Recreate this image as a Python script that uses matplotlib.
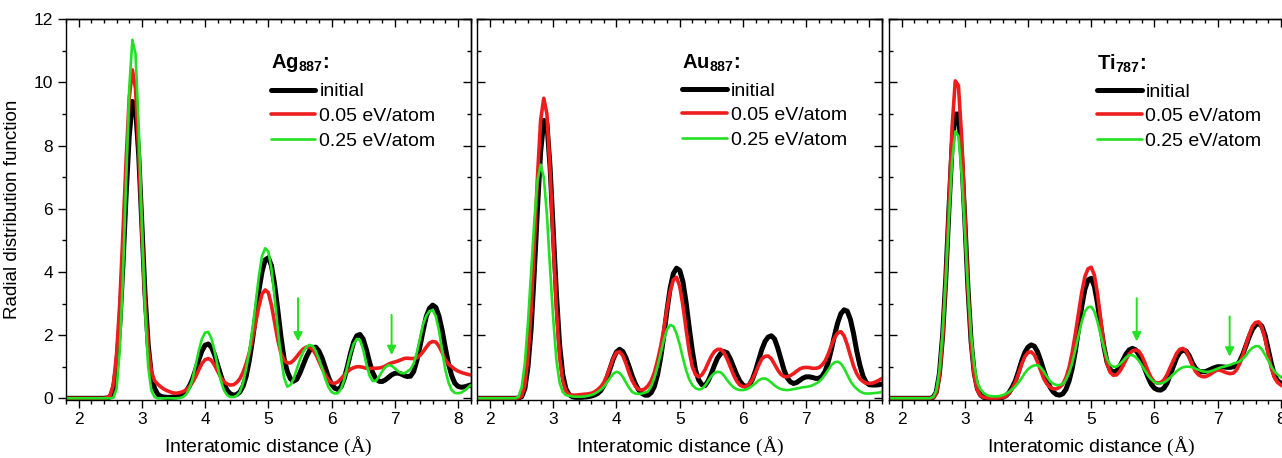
#!/usr/bin/env python3
"""Radial distribution functions of Ag887, Au887 and Ti787 clusters (three panels)."""

import matplotlib

matplotlib.use("Agg")

import matplotlib.pyplot as plt
import numpy as np
from matplotlib.ticker import MultipleLocator

# sampling of the curves: r = 1.80, 1.85, ... 8.20 A (one row = 0.5 A)
R_START = 1.8
R_STEP = 0.05

AG_INITIAL = [
    0, 0, 0, 0, 0, 0, 0, 0, 0, 0,
    0, 0, 0, 0.01, 0.05, 0.3, 1.0, 2.3, 4.2, 6.4,
    8.3, 9.4, 9.2, 7.7, 5.5, 3.3, 1.7, 0.75, 0.32, 0.13,
    0.06, 0.04, 0.03, 0.03, 0.04, 0.05, 0.08, 0.13, 0.22, 0.38,
    0.6, 0.9, 1.22, 1.5, 1.68, 1.72, 1.62, 1.38, 1.05, 0.72,
    0.44, 0.25, 0.14, 0.1, 0.12, 0.2, 0.38, 0.7, 1.2, 1.85,
    2.6, 3.4, 4.0, 4.38, 4.45, 4.2, 3.6, 2.8, 1.95, 1.25,
    0.85, 0.62, 0.54, 0.6, 0.8, 1.05, 1.3, 1.5, 1.6, 1.62,
    1.5, 1.28, 0.98, 0.68, 0.45, 0.32, 0.28, 0.36, 0.62, 1.0,
    1.42, 1.78, 1.98, 2.02, 1.88, 1.55, 1.15, 0.82, 0.62, 0.54,
    0.53, 0.58, 0.66, 0.74, 0.79, 0.8, 0.77, 0.72, 0.69, 0.7,
    0.85, 1.2, 1.65, 2.15, 2.6, 2.85, 2.95, 2.88, 2.6, 2.15,
    1.6, 1.1, 0.72, 0.48, 0.38, 0.35, 0.36, 0.39, 0.42,
]
AG_005 = [
    0, 0, 0, 0, 0, 0, 0, 0, 0, 0,
    0, 0, 0, 0.02, 0.1, 0.45, 1.4, 3.0, 5.2, 7.5,
    9.5, 10.4, 9.8, 7.8, 5.3, 3.1, 1.6, 0.85, 0.56, 0.45,
    0.36, 0.29, 0.24, 0.2, 0.17, 0.16, 0.18, 0.21, 0.27, 0.36,
    0.5, 0.68, 0.9, 1.1, 1.22, 1.26, 1.2, 1.05, 0.85, 0.66,
    0.52, 0.45, 0.42, 0.43, 0.5, 0.62, 0.82, 1.1, 1.45, 1.9,
    2.4, 2.9, 3.3, 3.43, 3.35, 2.95, 2.4, 1.85, 1.42, 1.2,
    1.12, 1.12, 1.2, 1.32, 1.45, 1.56, 1.62, 1.63, 1.55, 1.4,
    1.18, 0.95, 0.75, 0.58, 0.49, 0.47, 0.52, 0.62, 0.73, 0.84,
    0.92, 0.97, 1.0, 1.0, 0.98, 0.95, 0.94, 0.95, 0.95, 0.96,
    0.98, 1.02, 1.08, 1.12, 1.15, 1.18, 1.22, 1.26, 1.27, 1.26,
    1.26, 1.28, 1.36, 1.48, 1.62, 1.75, 1.8, 1.78, 1.65, 1.45,
    1.22, 1.08, 1.0, 0.92, 0.86, 0.82, 0.79, 0.76, 0.74,
]
AG_025 = [
    0, 0, 0, 0, 0, 0, 0, 0, 0, 0,
    0, 0, 0, 0, 0, 0.02, 0.3, 1.5, 3.8, 6.8,
    9.8, 11.35, 10.9, 8.6, 5.5, 2.8, 1.0, 0.25, 0.04, 0.0,
    0, 0, 0, 0, 0, 0, 0.01, 0.04, 0.12, 0.3,
    0.6, 1.05, 1.5, 1.88, 2.08, 2.1, 1.9, 1.5, 1.0, 0.55,
    0.25, 0.1, 0.04, 0.04, 0.08, 0.2, 0.48, 0.95, 1.5, 2.2,
    3.0, 3.85, 4.5, 4.75, 4.65, 4.1, 3.2, 2.2, 1.3, 0.65,
    0.37, 0.42, 0.62, 0.92, 1.22, 1.46, 1.62, 1.69, 1.66, 1.5,
    1.25, 0.95, 0.62, 0.36, 0.2, 0.15, 0.16, 0.3, 0.58, 1.0,
    1.4, 1.72, 1.88, 1.85, 1.55, 1.1, 0.72, 0.55, 0.55, 0.68,
    0.85, 0.98, 1.05, 1.03, 0.95, 0.86, 0.8, 0.79, 0.85, 0.92,
    1.1, 1.45, 1.9, 2.35, 2.62, 2.76, 2.79, 2.6, 2.15, 1.5,
    0.9, 0.5, 0.26, 0.17, 0.16, 0.18, 0.24, 0.32, 0.42,
]

AU_INITIAL = [
    0, 0, 0, 0, 0, 0, 0, 0, 0, 0,
    0, 0, 0, 0.01, 0.05, 0.3, 1.0, 2.2, 4.0, 6.0,
    7.8, 8.8, 8.7, 7.3, 5.3, 3.3, 1.7, 0.75, 0.3, 0.12,
    0.05, 0.03, 0.03, 0.03, 0.04, 0.05, 0.07, 0.1, 0.15, 0.24,
    0.4, 0.65, 0.95, 1.25, 1.47, 1.55, 1.48, 1.28, 1.0, 0.7,
    0.45, 0.27, 0.16, 0.1, 0.1, 0.18, 0.38, 0.75, 1.3, 2.0,
    2.8, 3.5, 3.95, 4.12, 4.05, 3.7, 3.05, 2.25, 1.5, 0.9,
    0.58, 0.43, 0.4, 0.55, 0.78, 1.05, 1.28, 1.42, 1.48, 1.44,
    1.25, 1.0, 0.75, 0.55, 0.42, 0.37, 0.42, 0.6, 0.88, 1.22,
    1.55, 1.8, 1.94, 1.98, 1.88, 1.6, 1.25, 0.9, 0.65, 0.52,
    0.47, 0.5, 0.57, 0.64, 0.68, 0.68, 0.66, 0.63, 0.63, 0.7,
    0.85, 1.15, 1.55, 2.0, 2.4, 2.68, 2.8, 2.76, 2.5, 2.05,
    1.5, 1.05, 0.7, 0.5, 0.43, 0.42, 0.42, 0.43, 0.45,
]
AU_005 = [
    0, 0, 0, 0, 0, 0, 0, 0, 0, 0,
    0, 0, 0, 0.01, 0.07, 0.4, 1.3, 2.8, 4.8, 7.0,
    8.8, 9.5, 9.0, 7.2, 4.9, 2.8, 1.3, 0.55, 0.22, 0.12,
    0.1, 0.1, 0.11, 0.12, 0.13, 0.14, 0.16, 0.2, 0.27, 0.36,
    0.5, 0.72, 1.0, 1.27, 1.45, 1.47, 1.35, 1.1, 0.8, 0.55,
    0.38, 0.28, 0.26, 0.3, 0.4, 0.56, 0.82, 1.2, 1.65, 2.2,
    2.85, 3.4, 3.75, 3.83, 3.55, 2.95, 2.2, 1.5, 1.0, 0.75,
    0.68, 0.74, 0.9, 1.12, 1.33, 1.48, 1.55, 1.55, 1.45, 1.25,
    1.0, 0.75, 0.55, 0.42, 0.37, 0.38, 0.45, 0.6, 0.82, 1.05,
    1.25, 1.33, 1.34, 1.25, 1.08, 0.9, 0.76, 0.69, 0.68, 0.72,
    0.78, 0.86, 0.93, 0.97, 0.98, 0.97, 0.95, 0.95, 0.97, 1.05,
    1.18, 1.4, 1.68, 1.92, 2.07, 2.11, 1.98, 1.7, 1.35, 1.02,
    0.78, 0.62, 0.53, 0.48, 0.47, 0.48, 0.52, 0.57, 0.63,
]
AU_025 = [
    0, 0, 0, 0, 0, 0, 0, 0, 0, 0,
    0, 0, 0, 0.05, 0.35, 1.1, 2.4, 4.0, 5.6, 6.9,
    7.4, 7.0, 5.8, 4.1, 2.5, 1.2, 0.5, 0.2, 0.1, 0.08,
    0.06, 0.05, 0.05, 0.05, 0.06, 0.08, 0.1, 0.14, 0.2, 0.27,
    0.36, 0.5, 0.65, 0.78, 0.84, 0.8, 0.68, 0.5, 0.33, 0.2,
    0.15, 0.14, 0.15, 0.18, 0.22, 0.38, 0.65, 1.0, 1.42, 1.85,
    2.18, 2.32, 2.28, 2.05, 1.7, 1.28, 0.9, 0.6, 0.42, 0.32,
    0.28, 0.3, 0.4, 0.55, 0.7, 0.8, 0.84, 0.82, 0.72, 0.58,
    0.45, 0.35, 0.29, 0.26, 0.26, 0.28, 0.33, 0.4, 0.48, 0.57,
    0.62, 0.63, 0.58, 0.5, 0.41, 0.34, 0.29, 0.27, 0.26, 0.27,
    0.29, 0.31, 0.33, 0.35, 0.36, 0.38, 0.41, 0.46, 0.52, 0.62,
    0.75, 0.9, 1.05, 1.14, 1.16, 1.1, 0.95, 0.75, 0.55, 0.4,
    0.3, 0.22, 0.17, 0.15, 0.15, 0.16, 0.17, 0.18, 0.2,
]

TI_INITIAL = [
    0, 0, 0, 0, 0, 0, 0, 0, 0, 0,
    0, 0, 0, 0, 0.03, 0.2, 0.8, 2.0, 3.8, 6.0,
    8.0, 9.0, 9.0, 7.7, 5.7, 3.5, 1.8, 0.8, 0.3, 0.1,
    0.03, 0.01, 0, 0, 0, 0.01, 0.03, 0.08, 0.18, 0.35,
    0.55, 0.85, 1.18, 1.45, 1.62, 1.69, 1.65, 1.48, 1.2, 0.88,
    0.58, 0.35, 0.2, 0.12, 0.1, 0.14, 0.28, 0.55, 0.95, 1.5,
    2.2, 2.9, 3.45, 3.75, 3.8, 3.55, 3.0, 2.3, 1.65, 1.15,
    0.9, 0.84, 0.86, 1.0, 1.2, 1.4, 1.53, 1.58, 1.54, 1.4,
    1.18, 0.92, 0.66, 0.45, 0.32, 0.27, 0.26, 0.32, 0.48, 0.75,
    1.02, 1.28, 1.45, 1.52, 1.5, 1.35, 1.12, 0.95, 0.86, 0.84,
    0.84, 0.88, 0.93, 0.97, 1.0, 1.0, 0.99, 0.98, 0.98, 1.0,
    1.05, 1.18, 1.4, 1.68, 1.95, 2.18, 2.32, 2.37, 2.28, 2.0,
    1.55, 1.1, 0.72, 0.55, 0.48, 0.4, 0.33, 0.28, 0.25,
]
TI_005 = [
    0, 0, 0, 0, 0, 0, 0, 0, 0, 0,
    0, 0, 0, 0, 0.02, 0.15, 0.7, 1.9, 3.8, 6.2,
    8.6, 10.05, 9.9, 8.3, 5.9, 3.5, 1.7, 0.7, 0.25, 0.08,
    0.03, 0.01, 0, 0, 0, 0.01, 0.03, 0.07, 0.16, 0.3,
    0.5, 0.78, 1.08, 1.32, 1.45, 1.47, 1.38, 1.15, 0.88, 0.62,
    0.45, 0.35, 0.3, 0.3, 0.35, 0.45, 0.65, 0.98, 1.45, 2.05,
    2.7, 3.35, 3.85, 4.1, 4.15, 3.9, 3.3, 2.5, 1.7, 1.1,
    0.82, 0.73, 0.74, 0.85, 1.02, 1.22, 1.4, 1.5, 1.53, 1.5,
    1.35, 1.12, 0.86, 0.65, 0.52, 0.48, 0.5, 0.58, 0.75, 0.98,
    1.2, 1.42, 1.55, 1.58, 1.5, 1.3, 1.05, 0.85, 0.74, 0.69,
    0.68, 0.72, 0.78, 0.85, 0.9, 0.88, 0.84, 0.8, 0.78, 0.8,
    0.9, 1.1, 1.38, 1.7, 2.02, 2.28, 2.4, 2.42, 2.25, 1.88,
    1.4, 0.95, 0.65, 0.5, 0.42, 0.36, 0.3, 0.26, 0.23,
]
TI_025 = [
    0, 0, 0, 0, 0, 0, 0, 0, 0, 0,
    0, 0, 0, 0, 0.04, 0.25, 0.9, 2.1, 3.8, 5.7,
    7.5, 8.45, 8.3, 7.1, 5.3, 3.5, 2.0, 1.05, 0.5, 0.28,
    0.17, 0.1, 0.07, 0.06, 0.06, 0.07, 0.1, 0.14, 0.2, 0.28,
    0.38, 0.5, 0.64, 0.8, 0.92, 1.0, 1.04, 1.05, 0.98, 0.85,
    0.68, 0.54, 0.46, 0.42, 0.42, 0.46, 0.58, 0.8, 1.12, 1.55,
    2.0, 2.42, 2.75, 2.88, 2.9, 2.75, 2.42, 2.0, 1.6, 1.25,
    1.06, 1.0, 1.0, 1.07, 1.18, 1.29, 1.36, 1.37, 1.31, 1.2,
    1.05, 0.88, 0.72, 0.6, 0.51, 0.47, 0.47, 0.5, 0.57, 0.66,
    0.76, 0.85, 0.93, 0.98, 1.0, 1.0, 0.98, 0.94, 0.9, 0.86,
    0.84, 0.84, 0.86, 0.9, 0.94, 0.98, 1.0, 1.03, 1.06, 1.1,
    1.13, 1.17, 1.25, 1.36, 1.5, 1.6, 1.65, 1.65, 1.55, 1.38,
    1.2, 1.0, 0.85, 0.75, 0.68, 0.6, 0.52, 0.45, 0.4,
]

# green arrows: (r, arrow tail, arrow tip)
AG_ARROWS = [(5.47, 3.17, 1.8), (6.95, 2.64, 1.37)]
TI_ARROWS = [(5.72, 3.17, 1.8), (7.19, 2.59, 1.32)]

SERIES_LABELS = ["initial", "0.05 eV/atom", "0.25 eV/atom"]
PANEL_TITLES = [("Ag", "887"), ("Au", "887"), ("Ti", "787")]

BLACK = "#000000"
RED = "#ee1c1c"
GREEN = "#22e022"
FONT = "Liberation Sans"

plt.rcParams.update(
    {
        "font.family": FONT,
        "font.size": 12,
        "axes.linewidth": 1.0,
        "mathtext.fontset": "custom",
        "mathtext.rm": "Liberation Serif",
        "mathtext.bf": "Liberation Sans:bold",
        "mathtext.sf": "Liberation Sans",
    }
)


def r_grid(values):
    return np.round(R_START + R_STEP * np.arange(len(values)), 2)


def style_axes(ax, first):
    ax.set_xlim(1.8, 8.2)
    ax.set_ylim(-0.05, 12)
    ax.xaxis.set_major_locator(MultipleLocator(1))
    ax.xaxis.set_minor_locator(MultipleLocator(0.2))
    ax.yaxis.set_major_locator(MultipleLocator(2))
    ax.yaxis.set_minor_locator(MultipleLocator(1))
    ax.tick_params(axis="x", which="both", direction="out", top=False, labelsize=12.5, pad=3)
    ax.tick_params(axis="y", which="both", direction="out" if first else "in",
                   right=False, labelleft=first, labelsize=12.5, pad=4)
    ax.tick_params(which="major", length=5.5, width=1.0)
    ax.tick_params(which="minor", length=3.2, width=1.0)

    top = ax.secondary_xaxis("top")
    top.xaxis.set_major_locator(MultipleLocator(1))
    top.xaxis.set_minor_locator(MultipleLocator(0.2))
    top.tick_params(which="both", direction="in", labeltop=False)
    top.tick_params(which="major", length=5.5, width=1.0)
    top.tick_params(which="minor", length=3.2, width=1.0)

    right = ax.secondary_yaxis("right")
    right.yaxis.set_major_locator(MultipleLocator(2))
    right.yaxis.set_minor_locator(MultipleLocator(1))
    right.tick_params(which="both", direction="in", labelright=False)
    right.tick_params(which="major", length=5.5, width=1.0)
    right.tick_params(which="minor", length=3.2, width=1.0)

    ax.set_xlabel(r"Interatomic distance $\mathrm{(\AA)}$", fontsize=14, labelpad=6)
    if first:
        ax.set_ylabel("Radial distribution function", fontsize=13.5, labelpad=9)


def draw_panel(ax, title, curves, arrows, legend_x, first):
    widths = [3.6, 2.6, 1.9]
    colors = [BLACK, RED, GREEN]
    for values, label, color, lw in zip(curves, SERIES_LABELS, colors, widths):
        ax.plot(r_grid(values), values, color=color, lw=lw, label=label,
                solid_capstyle="round", solid_joinstyle="round")
    for r, y0, y1 in arrows:
        ax.annotate("", xy=(r, y1), xytext=(r, y0),
                    arrowprops=dict(arrowstyle="-|>", color=GREEN, lw=1.4,
                                    mutation_scale=13, shrinkA=0, shrinkB=0))
    name, sub = title
    leg = ax.legend(
        loc="upper left",
        bbox_to_anchor=(legend_x, 0.913),
        frameon=False,
        fontsize=14,
        handlelength=2.3,
        handletextpad=0.2,
        labelspacing=0.36,
        borderpad=0.0,
        borderaxespad=0.0,
        title=r"$\mathbf{%s}_{\mathbf{%s}}$:" % (name, sub),
        title_fontproperties={"family": FONT, "weight": "bold", "size": 14.5},
        alignment="left",
    )
    leg._legend_box.sep = 6
    style_axes(ax, first)


def main():
    fig = plt.figure(figsize=(12.82, 4.58), dpi=100)
    bottom, height = 0.1269, 0.831
    lefts = [66 / 1282, 477.4 / 1282, 888.9 / 1282]
    width = 404.6 / 1282

    panels = [
        (PANEL_TITLES[0], [AG_INITIAL, AG_005, AG_025], AG_ARROWS, 0.506),
        (PANEL_TITLES[1], [AU_INITIAL, AU_005, AU_025], [], 0.506),
        (PANEL_TITLES[2], [TI_INITIAL, TI_005, TI_025], TI_ARROWS, 0.514),
    ]
    for i, (title, curves, arrows, lx) in enumerate(panels):
        ax = fig.add_axes([lefts[i], bottom, width, height])
        draw_panel(ax, title, curves, arrows, lx, first=(i == 0))

    fig.savefig("out.png", dpi=100)


if __name__ == "__main__":
    main()
